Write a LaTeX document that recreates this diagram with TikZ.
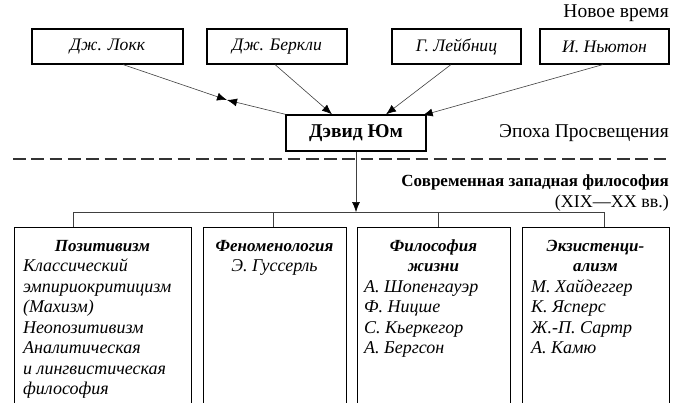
\documentclass[tikz,border=0pt]{standalone}
\usepackage{fontspec}
\setmainfont{Liberation Serif}
\usetikzlibrary{arrows.meta}
\begin{document}
\begin{tikzpicture}[x=1pt,y=-1pt,
  topbox/.style={draw,line width=1.1pt,minimum height=35pt,inner sep=0pt,font=\fontsize{17.6}{20}\selectfont\itshape},
  humebox/.style={draw,line width=1.4pt,minimum width=140pt,minimum height=36pt,inner sep=0pt,font=\fontsize{19.5}{22}\selectfont\bfseries},
  colbox/.style={draw,line width=1.2pt,anchor=north west,inner sep=0pt,minimum height=220pt},
  conn/.style={draw=black!75,line width=0.6pt},
  arr/.style={conn,-{Latex[length=10pt,width=8pt,color=black]}},
  captxt/.style={anchor=base east,inner sep=0pt,font=\fontsize{19.5}{22}\selectfont},
  capsmall/.style={anchor=base east,inner sep=0pt,font=\fontsize{18}{20}\selectfont},
  capbold/.style={anchor=base east,inner sep=0pt,font=\fontsize{17}{20}\selectfont\bfseries},
  ttl/.style={anchor=base,inner sep=0pt,font=\fontsize{17}{20}\selectfont\bfseries\itshape},
  itm/.style={anchor=base west,inner sep=0pt,font=\fontsize{18}{20}\selectfont\itshape},
  itmc/.style={anchor=base,inner sep=0pt,font=\fontsize{18}{20}\selectfont\itshape}
]
\clip (0,0) rectangle (676,402);
\fill[white] (0,0) rectangle (676,402);

% captions
\node[captxt] (nv) at (669,17) {Новое время};
\node[captxt] (ep) at (669,137) {Эпоха Просвещения};
\node[capbold] (sz) at (669,186) {Современная западная философия};
\node[capsmall] (vv) at (669,207) {(XIX—XX вв.)};

% top boxes
\node[topbox,minimum width=151pt] (L) at (107.5,46.5) {Дж. Локк};
\node[topbox,minimum width=140pt] (B) at (277,46.5) {Дж. Беркли};
\node[topbox,minimum width=129pt] (G) at (456.5,46.5) {Г. Лейбниц};
\node[topbox,minimum width=129pt] (N) at (604.5,46.5) {И. Ньютон};
\node[humebox] (H) at (356,133) {Дэвид Юм};

% arrows into Hume
\coordinate (meet) at (227,100);
\draw[arr] ([xshift=15.5pt]L.south) -- (meet);
\draw[arr] (H.north west) -- (meet);
\draw[arr] ([xshift=-2pt]B.south) -- ([xshift=-24pt]H.north);
\draw[arr] ([xshift=-5.5pt]G.south) -- ([xshift=30pt]H.north);
\draw[arr] ([xshift=-1.5pt]N.south) -- ([xshift=-4pt,yshift=-1pt]H.north east);

% dashed border
\draw[black!80,line width=1.3pt,dash pattern=on 12.7pt off 5.6pt] (13,159) -- (670,159);

% bottom boxes
\node[colbox,minimum width=177pt] (P) at (14,227) {};
\node[colbox,minimum width=143pt] (F) at (203,227) {};
\node[colbox,minimum width=153pt] (Z) at (357,227) {};
\node[colbox,minimum width=147pt] (E) at (522,227) {};

% tree
\coordinate (b1) at (73,212);
\coordinate (b2) at (273,212);
\coordinate (b3) at (438,212);
\coordinate (b4) at (604,212);
\draw[conn] (b1) -- (b4);
\draw[conn] (b1) -- (b1 |- P.north);
\draw[conn] (b2) -- (b2 |- F.north);
\draw[conn] (b3) -- (b3 |- Z.north);
\draw[conn] (b4) -- (b4 |- E.north);
\draw[arr] (H.south) -- (H.south |- b1);

% Positivism
\node[ttl] (Pt) at (102.5,251) {Позитивизм};
\foreach \t [count=\i] in {Классический,эмпириокритицизм,(Махизм),Неопозитивизм,Аналитическая,и лингвистическая,философия}
  \node[itm] (P\i) at (23,{251+20.5*\i}) {\t};

% Phenomenology
\node[ttl] (Ft) at (274.5,251) {Феноменология};
\node[itmc] (F1) at (274.5,271.5) {Э. Гуссерль};

% Life
\node[ttl] (Zt) at (433.5,251) {Философия};
\node[ttl] (Zt2) at (433.5,271.5) {жизни};
\foreach \t [count=\i] in {А. Шопенгауэр,Ф. Ницше,С. Кьеркегор,А. Бергсон}
  \node[itm] (Z\i) at (364,{271.5+20.5*\i}) {\t};

% Existentialism
\node[ttl] (Et) at (595.5,251) {Экзистенци-};
\node[ttl] (Et2) at (595.5,271.5) {ализм};
\foreach \t [count=\i] in {М. Хайдеггер,К. Ясперс,Ж.-П. Сартр,А. Камю}
  \node[itm] (E\i) at (531,{271.5+20.5*\i}) {\t};
\end{tikzpicture}
\end{document}
